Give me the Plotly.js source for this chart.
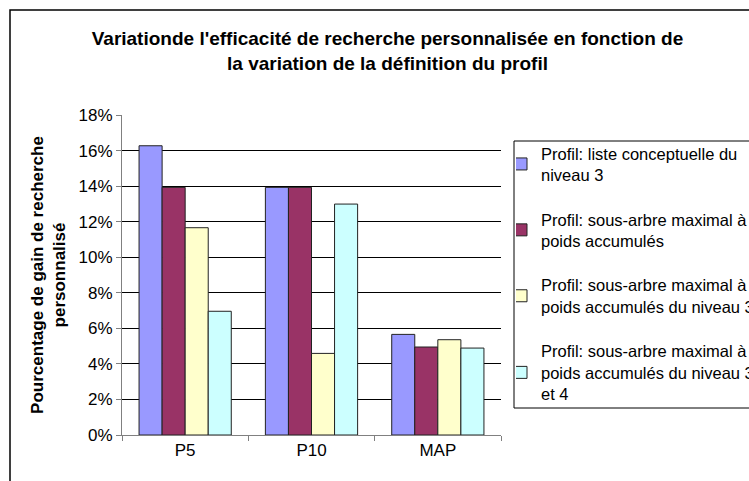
<!DOCTYPE html>
<html>
<head>
<meta charset="utf-8">
<script src="https://cdn.plot.ly/plotly-3.0.1.min.js"></script>
<style>html,body{margin:0;padding:0;background:#fff;}#chart{width:749px;height:481px;}</style>
</head>
<body>
<div id="chart"></div>
<script>
const categories = ["P5", "P10", "MAP"];
const seriesNames = [
  "Profil: liste conceptuelle du<br>niveau 3",
  "Profil: sous-arbre maximal à<br>poids accumulés",
  "Profil: sous-arbre maximal à<br>poids accumulés du niveau 3",
  "Profil: sous-arbre maximal à<br>poids accumulés du niveau 3<br>et 4"
];
const listeConceptuelleN3 = [0.1627, 0.1393, 0.0566];
const sousArbrePoids = [0.1393, 0.1393, 0.0495];
const sousArbreN3 = [0.1166, 0.0459, 0.0536];
const sousArbreN34 = [0.0696, 0.1299, 0.0489];
const seriesValues = [listeConceptuelleN3, sousArbrePoids, sousArbreN3, sousArbreN34];
const colors = ["#9999FF", "#993366", "#FFFFCC", "#CCFFFF"];

const W = 749, H = 481;
const font = "Liberation Sans, Arial, sans-serif";

const traces = seriesValues.map((vals, i) => ({
  type: "bar",
  name: seriesNames[i],
  x: categories,
  y: vals,
  legendgroup: "g" + i,
  marker: {color: colors[i], line: {color: "#222", width: 1}},
  hoverinfo: "x+y"
}));

const layout = {
  width: W, height: H,
  margin: {l: 0, r: 0, t: 0, b: 0, autoexpand: false},
  paper_bgcolor: "#fff",
  plot_bgcolor: "#fff",
  font: {family: font, size: 17, color: "#000"},
  barmode: "group",
  bargap: 0.27,
  bargroupgap: 0,
  title: {
    text: "<b>Variationde l'efficacité de recherche personnalisée en fonction de<br>la variation de la définition du profil</b>",
    font: {family: font, size: 19, color: "#000"},
    x: 387.5 / W, xanchor: "center", xref: "paper",
    y: 1 - 45 / H, yanchor: "middle", yref: "container"
  },
  xaxis: {
    domain: [122 / W, 501 / W],
    type: "category",
    showline: true, linecolor: "#808080", linewidth: 1,
    ticks: "outside", tickson: "boundaries", ticklen: 5, tickcolor: "#808080",
    showgrid: false, zeroline: false,
    tickfont: {family: font, size: 17, color: "#000"},
    automargin: false
  },
  yaxis: {
    domain: [1 - 435 / H, 1 - 115 / H],
    range: [0, 0.18],
    dtick: 0.02,
    tickformat: ".0%",
    showline: true, linecolor: "#808080", linewidth: 1,
    ticks: "outside", ticklen: 5, tickcolor: "#808080",
    showgrid: true, gridcolor: "#000", gridwidth: 1,
    zeroline: false,
    tickfont: {family: font, size: 17, color: "#000"},
    automargin: false,
    title: {
      text: "<b>Pourcentage de gain de recherche<br>personnalisé</b>",
      font: {family: font, size: 17, color: "#000"},
      standoff: 8
    }
  },
  legend: {
    x: 516 / W, y: 1 - 136 / H, xanchor: "left", yanchor: "top",
    borderwidth: 0, bgcolor: "rgba(0,0,0,0)",
    font: {family: font, size: 16.5, color: "#000"},
    traceorder: "grouped", tracegroupgap: 20,
    itemwidth: 30, indentation: -15
  },
  shapes: [{
    type: "rect", xref: "paper", yref: "paper",
    x0: 10 / W, x1: 1.02, y0: -0.02, y1: 1 - 10 / H,
    line: {color: "#000", width: 1.5}, fillcolor: "rgba(0,0,0,0)", layer: "below"
  }, {
    type: "rect", xref: "paper", yref: "paper",
    x0: 514 / W, x1: 1.02, y0: 1 - 408 / H, y1: 1 - 141 / H,
    line: {color: "#000", width: 1}, fillcolor: "rgba(0,0,0,0)", layer: "below"
  }],
  showlegend: true
};

Plotly.newPlot("chart", traces, layout, {displayModeBar: false, staticPlot: true});
</script>
</body>
</html>
